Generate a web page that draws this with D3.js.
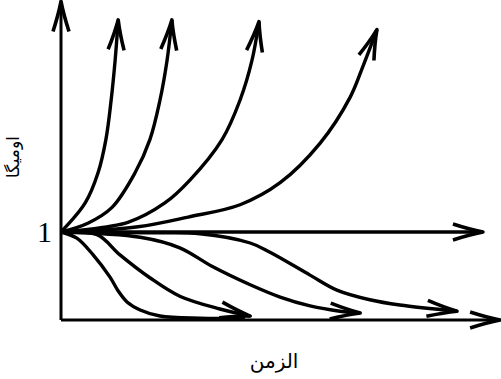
<!DOCTYPE html>
<html>
<head>
<meta charset="utf-8">
<script src="https://cdnjs.cloudflare.com/ajax/libs/d3/7.8.5/d3.min.js"></script>
<style>
  body { margin: 0; background: #fff; }
</style>
</head>
<body>
<div id="chart"></div>
<script>
// curves, all start at omega = 1 at t = 0
var timeU1 = [0, 0.55, 0.84, 1.02, 1.14, 1.23, 1.30];
var omegaU1 = [1, 1.33, 1.67, 2.05, 2.5, 2.95, 3.41];
var timeU2 = [0, 0.61, 1.16, 1.68, 2.02, 2.25, 2.41, 2.52];
var omegaU2 = [1, 1.10, 1.28, 1.67, 2.05, 2.5, 2.95, 3.41];
var timeU3 = [0, 1.52, 2.36, 2.93, 3.66, 4.07, 4.34, 4.50];
var omegaU3 = [1, 1.11, 1.33, 1.59, 2.05, 2.5, 2.95, 3.39];
var timeU4 = [0, 1.75, 2.89, 4.07, 4.98, 5.89, 6.57, 6.86, 7.18];
var omegaU4 = [1, 1.06, 1.17, 1.31, 1.56, 2.01, 2.53, 2.88, 3.30];
var timeH = [0, 9.59];
var omegaH = [1, 1];
var timeD1 = [0, 0.36, 0.73, 1.11, 1.30, 1.50, 1.80, 2.25, 3.16, 4.18];
var omegaD1 = [1, 0.93, 0.74, 0.49, 0.33, 0.205, 0.114, 0.045, 0.02, 0.02];
var timeD2 = [0, 0.82, 1.34, 2.02, 2.70, 3.61, 4.30];
var omegaD2 = [1, 0.97, 0.74, 0.48, 0.27, 0.125, 0.045];
var timeD3 = [0, 1.80, 2.70, 3.43, 4.30, 4.98, 5.66, 6.34, 6.80];
var omegaD3 = [1, 0.94, 0.82, 0.61, 0.40, 0.26, 0.16, 0.10, 0.08];
var timeD4 = [0, 2.02, 3.16, 4.30, 4.75, 5.66, 6.27, 7.02, 7.70, 9.0];
var omegaD4 = [1, 0.99, 0.98, 0.875, 0.77, 0.51, 0.34, 0.23, 0.17, 0.10];

var tickValuesY = [1];
var labelX = "الزمن";
var labelY = "اوميگا";

var width = 501, height = 379;
var tMax = 9.98, omegaMax = 3.62;

// scales
var xScale = d3.scaleLinear()
	.domain([0, 10])
	.range([61, 501]);

var yScale = d3.scaleLinear()
	.domain([0, 1])
	.range([320, 232]);

var svg = d3.select("#chart")
	.append("svg")
	.attr("width", width)
	.attr("height", height)
	.style("background", "#fff");

// open barbed arrow head
svg.append("defs")
	.append("marker")
	.attr("id", "arrow")
	.attr("markerUnits", "userSpaceOnUse")
	.attr("viewBox", "-36 -12 40 24")
	.attr("markerWidth", 40)
	.attr("markerHeight", 24)
	.attr("refX", 0)
	.attr("refY", 0)
	.attr("orient", "auto")
	.append("path")
	.attr("d", "M-30,-8 Q-13,-2.5 0,0 Q-13,2.5 -30,8")
	.attr("fill", "none")
	.attr("stroke", "#000")
	.attr("stroke-width", 3.6)
	.attr("stroke-linejoin", "round");

var line = d3.line()
	.x(function(d) { return xScale(d[0]); })
	.y(function(d) { return yScale(d[1]); })
	.curve(d3.curveCatmullRom.alpha(0.5));

// axes
svg.append("path")
	.attr("d", line([[0, 0], [tMax, 0]]))
	.attr("stroke", "#000")
	.attr("stroke-width", 3)
	.attr("fill", "none")
	.attr("marker-end", "url(#arrow)");

svg.append("path")
	.attr("d", line([[0, 0], [0, omegaMax]]))
	.attr("stroke", "#000")
	.attr("stroke-width", 3)
	.attr("fill", "none")
	.attr("marker-end", "url(#arrow)");

var curves = [
	{t: timeU1, w: omegaU1, arrow: true},
	{t: timeU2, w: omegaU2, arrow: true},
	{t: timeU3, w: omegaU3, arrow: true},
	{t: timeU4, w: omegaU4, arrow: true},
	{t: timeH, w: omegaH, arrow: true},
	{t: timeD1, w: omegaD1, arrow: false},
	{t: timeD2, w: omegaD2, arrow: true},
	{t: timeD3, w: omegaD3, arrow: true},
	{t: timeD4, w: omegaD4, arrow: true}
];

svg.selectAll(".curve")
	.data(curves)
	.enter()
	.append("path")
	.attr("class", "curve")
	.attr("d", function(c) {
		return line(c.t.map(function(t, i) { return [t, c.w[i]]; }));
	})
	.attr("fill", "none")
	.attr("stroke", "#000")
	.attr("stroke-width", 3.4)
	.attr("marker-end", function(c) { return c.arrow ? "url(#arrow)" : null; });

// the single tick label
var yAxis = d3.axisLeft(yScale)
	.tickValues(tickValuesY)
	.tickFormat(d3.format("d"))
	.tickSize(0)
	.tickPadding(9);

var gy = svg.append("g")
	.attr("transform", "translate(" + xScale(0) + ",0)")
	.call(yAxis);
gy.select(".domain").remove();
gy.selectAll("text")
	.attr("font-family", "'Liberation Serif', serif")
	.attr("font-size", "30px")
	.attr("fill", "#000");

// axis titles
svg.append("text")
	.attr("x", 274)
	.attr("y", 368)
	.attr("text-anchor", "middle")
	.attr("font-family", "'DejaVu Sans', sans-serif")
	.attr("font-size", "20px")
	.attr("fill", "#000")
	.text(labelX);

svg.append("text")
	.attr("transform", "translate(19,157) rotate(-90)")
	.attr("text-anchor", "middle")
	.attr("font-family", "'DejaVu Sans', sans-serif")
	.attr("font-size", "17px")
	.attr("fill", "#000")
	.text(labelY);
</script>
</body>
</html>
